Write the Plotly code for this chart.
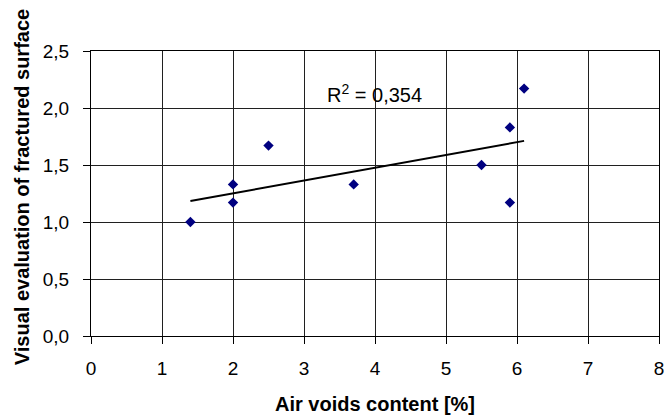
import numpy as np
import plotly.graph_objects as go

air_voids = [1.4, 2.0, 2.0, 2.5, 3.7, 5.5, 5.9, 5.9, 6.1]
visual_eval = [1.0, 1.17, 1.33, 1.67, 1.33, 1.5, 1.83, 1.17, 2.17]
r2_label = "R<sup>2</sup> = 0,354"
x_title = "Air voids content [%]"
y_title = "Visual evaluation of fractured surface"

x = np.array(air_voids)
y = np.array(visual_eval)
slope, intercept = np.polyfit(x, y, 1)
tx = np.array([x.min(), x.max()])
ty = slope * tx + intercept

font = "Liberation Sans, Arial, sans-serif"

fig = go.Figure()
fig.add_trace(go.Scatter(x=tx, y=ty, mode="lines",
                         line=dict(color="black", width=2), showlegend=False))
fig.add_trace(go.Scatter(x=air_voids, y=visual_eval, mode="markers",
                         marker=dict(symbol="diamond", size=8, color="#000080"),
                         showlegend=False))

fig.add_annotation(x=3.99, y=2.13, text=r2_label, showarrow=False,
                   font=dict(family=font, size=20, color="black"))

# y-axis title as rotated annotation for exact placement
fig.add_annotation(xref="paper", yref="paper", x=0, y=0.522, xshift=-69,
                   xanchor="center", yanchor="middle", textangle=-90,
                   showarrow=False, text="<b>" + y_title + "</b>",
                   font=dict(family=font, size=20, color="black"))

fig.update_layout(
    width=664, height=417,
    margin=dict(l=91, r=5, t=51, b=81),
    paper_bgcolor="white", plot_bgcolor="white",
    separators=", ",
    font=dict(family=font, size=19, color="black"),
    xaxis=dict(range=[0, 8], dtick=1, showgrid=True, gridcolor="#202020", gridwidth=1,
               showline=True, linecolor="black", linewidth=1, mirror=True,
               ticks="outside", ticklen=7, tickcolor="black", zeroline=False,
               ticklabelstandoff=8, ticklabeloverflow="allow", automargin=False,
               title=dict(text="<b>" + x_title + "</b>", standoff=19,
                          font=dict(size=20))),
    yaxis=dict(range=[0, 2.5], dtick=0.5, tickformat=".1f", showgrid=True,
               gridcolor="#202020", gridwidth=1,
               showline=True, linecolor="black", linewidth=1, mirror=True,
               ticks="outside", ticklen=7, tickcolor="black", zeroline=False,
               ticklabelstandoff=10, ticklabeloverflow="allow", automargin=False),
)

fig.write_html("out.html", config={"displayModeBar": False},
               post_script="document.body.style.margin='0';")
